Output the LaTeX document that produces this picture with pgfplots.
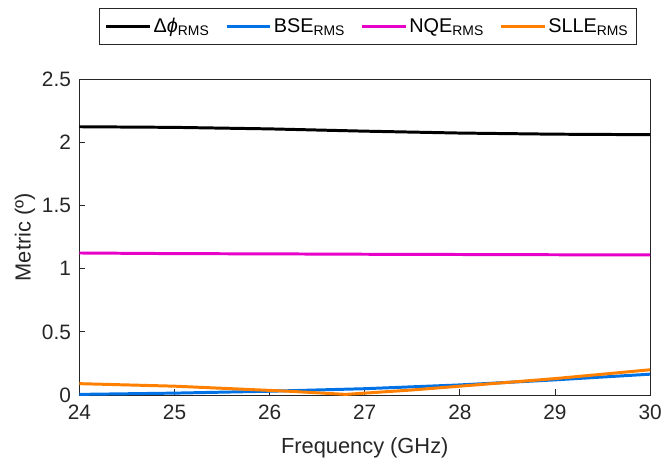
\documentclass[border=0pt]{standalone}
\usepackage{fontspec}
\setmainfont{Liberation Sans}
\usepackage{pgfplots}
\pgfplotsset{compat=1.18}

\definecolor{mblue}{RGB}{0,114,230}
\definecolor{mmag}{RGB}{230,0,200}
\definecolor{morange}{RGB}{255,128,0}
\definecolor{axgray}{RGB}{38,38,38}

\begin{document}
\begin{tikzpicture}
  \begin{axis}[
      scale only axis,
      width=575pt,
      height=318pt,
      xmin=24, xmax=30,
      ymin=0, ymax=2.5,
      xtick={24,...,30},
      ytick={0,0.5,1,1.5,2,2.5},
      tick align=inside,
      tick pos=left,
      major tick length=6pt,
      axis line style={axgray, line width=0.8pt},
      tick style={axgray, line width=0.8pt},
      /pgf/number format/assume math mode=true,
      ticklabel style={font=\fontsize{21}{25}\selectfont, text=axgray},
      xticklabel style={yshift=-6pt},
      yticklabel style={xshift=-5pt},
      xlabel={Frequency (GHz)},
      ylabel={Metric (º)},
      label style={font=\fontsize{22}{26}\selectfont, text=axgray},
      xlabel style={yshift=-12pt},
      legend columns=4,
      legend style={
        at={(0.505,1.11)}, anchor=south,
        draw=axgray, line width=0.8pt,
        font=\fontsize{20}{24}\selectfont,
        /tikz/every even column/.append style={column sep=14pt},
        inner xsep=6pt, inner ysep=8pt,
      },
      legend image code/.code={
        \draw[#1, line width=3pt] (0pt,0pt) -- (44pt,0pt);
      },
  ]
    \addplot[black, line width=3pt] coordinates {
      (24,2.125) (25,2.12) (26,2.108) (27,2.09) (28,2.075) (29,2.066) (30,2.062)
    };
    \addlegendentry{Δ\textit{ϕ}\textsubscript{RMS}}
    \addplot[mblue, line width=3pt] coordinates {
      (24,0.005) (25,0.015) (26,0.03) (27,0.05) (28,0.08) (29,0.12) (30,0.165)
    };
    \addlegendentry{BSE\textsubscript{RMS}}
    \addplot[mmag, line width=3pt] coordinates {
      (24,1.125) (25,1.12) (26,1.118) (27,1.115) (28,1.113) (29,1.111) (30,1.11)
    };
    \addlegendentry{NQE\textsubscript{RMS}}
    \addplot[morange, line width=3pt] coordinates {
      (24,0.09) (25,0.07) (26.2,0.03) (26.8,0.005) (27.5,0.04) (28,0.07) (29,0.13) (30,0.2)
    };
    \addlegendentry{SLLE\textsubscript{RMS}}
  \end{axis}
  % keep the reference margins round the axis
  \path ([xshift=-80pt,yshift=-69pt]current axis.south west)
        rectangle ([xshift=4pt,yshift=80pt]current axis.north east);
\end{tikzpicture}
\end{document}
